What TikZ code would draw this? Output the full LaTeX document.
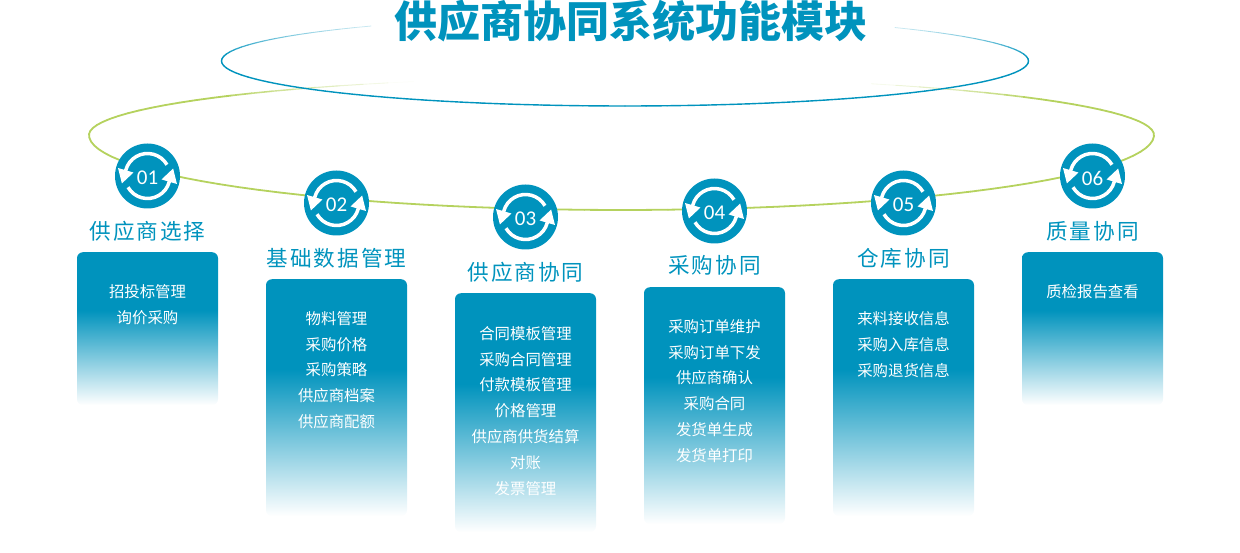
\documentclass[tikz,border=0pt]{standalone}
\usepackage{fontspec}
\setmainfont{Noto Sans CJK SC}
\newfontfamily\headfont[LetterSpace=9]{Noto Sans CJK SC}
\newfontfamily\numfont{Carlito}
\usepackage{tikz}
\usetikzlibrary{arrows.meta, positioning, calc}
\definecolor{mblue}{HTML}{0093BD}
\definecolor{mgreen}{HTML}{B5D25E}
\pgfdeclareverticalshading{cardfade}{100bp}{
  color(0bp)=(white); color(25bp)=(white); color(56bp)=(mblue); color(100bp)=(mblue)}
\tikzset{
  card/.style={shading=cardfade, rounded corners=6pt, minimum width=141pt,
               anchor=north, inner sep=0pt},
  cardtext/.style={text=white, align=center, anchor=north, inner sep=0pt,
                   font=\fontsize{15.4}{25.9}\selectfont},
  head/.style={text=mblue, inner sep=0pt, font=\fontsize{21.6}{24}\headfont},
  badge/.style={circle, fill=mblue, minimum size=65pt, inner sep=0pt},
  turn/.style={white, line width=3.5pt, -{Triangle[length=14pt,width=15pt]}},
}
\begin{document}
\begin{tikzpicture}[x=1pt, y=-1pt]
  \useasboundingbox (0,0) rectangle (1240,553);
  % rings
  \foreach \a in {-62,-59,...,246}{
    \pgfmathsetmacro{\p}{max(0,min(100,(155-abs(\a-90))*4))}
    \pgfmathsetmacro{\w}{0.7+\p*0.011}
    \draw[draw=mgreen!\p!white, line width=\w pt, line cap=round]
      ({621.5+532.5*cos(\a)},{135+(sin(\a)>0?75:58)*sin(\a)}) --
      ({621.5+532.5*cos(\a+3)},{135+(sin(\a+3)>0?75:58)*sin(\a+3)});
  }
  \foreach \a in {-48,-45,...,229}{
    \pgfmathsetmacro{\p}{max(0,min(100,(150-abs(\a-90))*1.8))}
    \pgfmathsetmacro{\w}{0.6+\p*0.008}
    \draw[draw=mblue!\p!white, line width=\w pt, line cap=round]
      ({625+403.5*cos(\a)},{61+45*sin(\a)}) --
      ({625+403.5*cos(\a+3)},{61+45*sin(\a+3)});
  }
  \node[text=mblue, inner sep=0pt, font=\fontsize{43}{46}\selectfont\bfseries] (title)
    at (631,21) {供应商协同系统功能模块};
  % cards
  \node[card, minimum height=153pt] (card1) at (147.5,252) {};
  \node[card, minimum height=237pt] (card2) at (336.5,279) {};
  \node[card, minimum height=239pt] (card3) at (525.5,293) {};
  \node[card, minimum height=237pt] (card4) at (714.5,287) {};
  \node[card, minimum height=237pt] (card5) at (903.5,279) {};
  \node[card, minimum height=153pt] (card6) at (1092.5,252) {};
  \node[cardtext] (text1) at ([yshift=-32pt]card1.north) {招投标管理\\询价采购};
  \node[cardtext] (text2) at ([yshift=-32pt]card2.north)
    {物料管理\\采购价格\\采购策略\\供应商档案\\供应商配额};
  \node[cardtext] (text3) at ([yshift=-33pt]card3.north)
    {合同模板管理\\采购合同管理\\付款模板管理\\价格管理\\供应商供货结算\\对账\\发票管理};
  \node[cardtext] (text4) at ([yshift=-32pt]card4.north)
    {采购订单维护\\采购订单下发\\供应商确认\\采购合同\\发货单生成\\发货单打印};
  \node[cardtext] (text5) at ([yshift=-32pt]card5.north)
    {来料接收信息\\采购入库信息\\采购退货信息};
  \node[cardtext] (text6) at ([yshift=-32pt]card6.north) {质检报告查看};
  % badges and headings
  \foreach \x/\y/\hy/\num/\name in {
      147.5/176/231/01/供应商选择, 336.5/203/258/02/基础数据管理,
      525.5/217/272/03/供应商协同, 714.5/211/265.5/04/采购协同,
      903.5/203/258/05/仓库协同, 1092.5/176/231/06/质量协同}{
    \node[badge] (badge\num) at (\x,\y) {};
    \draw[turn] ($(badge\num)+(30:22.5pt)$) arc (30:165:22.5pt)
      -- ($(badge\num)+(-25.7,7.7)$);
    \draw[turn] ($(badge\num)+(210:22.5pt)$) arc (210:345:22.5pt)
      -- ($(badge\num)+(25.7,-7.7)$);
    \node[text=white, inner sep=0pt, font=\fontsize{21}{24}\numfont] (num\num)
      at ([yshift=-2pt]badge\num.center) {\num};
    \node[head] (head\num) at (\x,\hy) {\name};
  }
\end{tikzpicture}
\end{document}
